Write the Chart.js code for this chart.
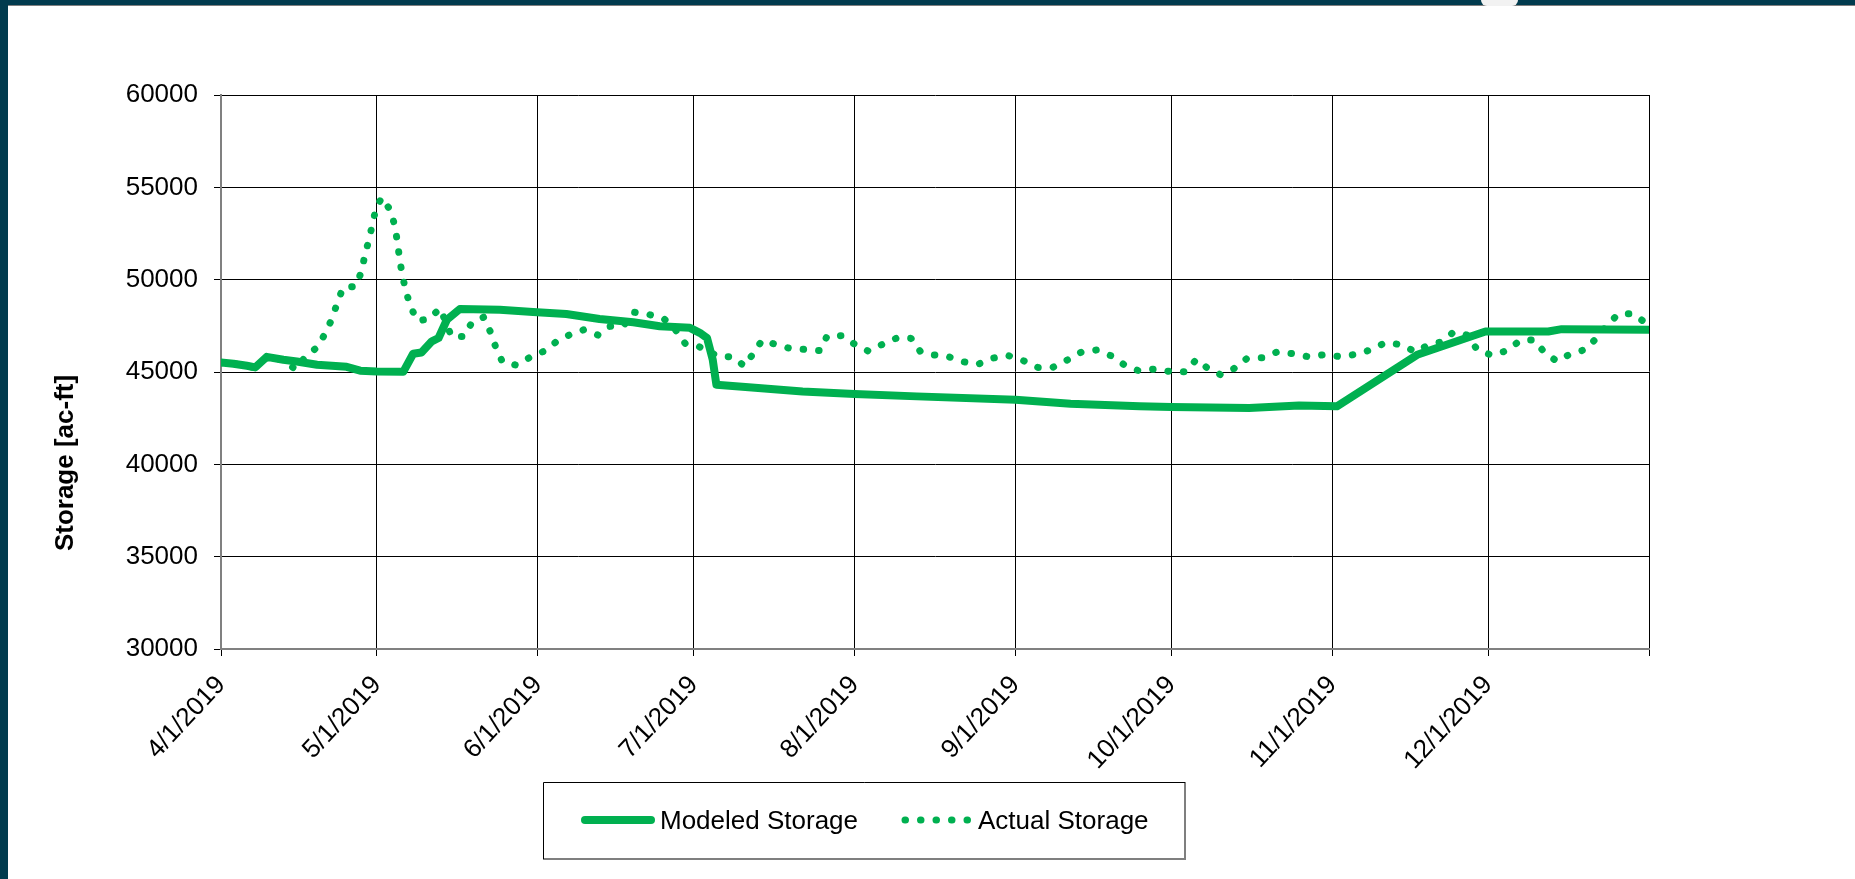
<!DOCTYPE html>
<html>
<head>
<meta charset="utf-8">
<script src="https://cdn.jsdelivr.net/npm/chart.js@4.4.1/dist/chart.umd.min.js"></script>
<style>
  html, body { margin: 0; padding: 0; background: #fff; overflow: hidden; }
  #wrap { position: absolute; left: 0; top: 0; width: 1855px; height: 879px; }
  .band-top { position: absolute; left: 0; top: 0; width: 1855px; height: 5px; background: #013b4e; border-bottom: 1px solid #7f7f7f; }
  .band-left { position: absolute; left: 0; top: 0; width: 8px; height: 879px; background: #013b4e; }
  .knob { position: absolute; left: 1481px; top: 0; width: 37px; height: 6px; background: #f2f2f2; border-radius: 0 0 18px 18px; }
</style>
</head>
<body>
<div id="wrap"><canvas id="storageChart"></canvas></div>
<div class="band-top"></div>
<div class="band-left"></div>
<div class="knob"></div>
<script>
// x values are days after 4/1/2019
const monthDays = [0, 30, 61, 91, 122, 153, 183, 214, 244, 275];
const monthLabels = ['4/1/2019', '5/1/2019', '6/1/2019', '7/1/2019', '8/1/2019',
  '9/1/2019', '10/1/2019', '11/1/2019', '12/1/2019', ''];
const yTicks = [30000, 35000, 40000, 45000, 50000, 55000, 60000];

// Modeled Storage
const modeledDays = [0, 2.4, 5, 6.6, 8.8, 12, 14.6, 18.5, 24.2, 26.8, 30, 35.1, 37, 38.6,
  40.6, 41.9, 43.5, 46, 53.7, 60.1, 66.5, 72.9, 79.4, 84.5, 90.3, 92.2, 93.6, 94.7, 95.4,
  101, 112, 122, 134, 153, 163.6, 176.9, 183, 198, 207.6, 214.9, 230.5, 243.5, 255.6,
  258.2, 275];
const modeledValues = [45520, 45450, 45340, 45250, 45820, 45660, 45570, 45390, 45280, 45070,
  45030, 45010, 45990, 46060, 46660, 46840, 47830, 48410, 48370, 48250, 48140, 47870, 47690,
  47480, 47390, 47120, 46840, 45660, 44310, 44190, 43950, 43810, 43680, 43500, 43280, 43140,
  43110, 43050, 43180, 43140, 45950, 47190, 47190, 47320, 47290];

// Actual Storage
const actualDays = [0, 3, 6, 9, 12, 14.3, 16.2, 18.6, 20.1, 21.4, 22.4, 23.5, 26, 27.1, 27.7,
  28.5, 29.2, 29.9, 31, 32.7, 33.5, 34, 34.4, 34.9, 35.6, 36.5, 37.8, 40, 42.2, 44.4, 46.8,
  48.3, 50.6, 51.9, 52.9, 54.2, 56.9, 59.6, 62.4, 64.8, 67.2, 69.9, 72.6, 74.9, 77.6, 79.5,
  82.6, 85.4, 87.6, 89.4, 91.9, 95.8, 98.5, 100.8, 102.5, 104.2, 107.1, 109.9, 112.8, 115.4,
  116.7, 119.5, 122.1, 124.7, 127.5, 130.4, 132.9, 134.7, 137, 139.8, 142.7, 145.7, 148.6,
  151.5, 154.4, 157.3, 160.2, 163, 165.7, 168.6, 171.4, 174, 176.7, 179.8, 182.9, 185.9,
  187.8, 189.8, 192.5, 195.1, 197.5, 200.5, 203.5, 206.4, 209.4, 212.5, 215.6, 218.6, 221.5,
  224.2, 227.3, 230, 232.4, 235, 237.4, 240.1, 241.9, 244.7, 247.6, 250.1, 252.8, 254.8,
  257.2, 260, 262.7, 264.8, 266.9, 269, 271.9, 275];
const actualValues = [45500, 45420, 45260, 45800, 45640, 45150, 45800, 46360, 47110, 47900,
  48750, 49570, 49640, 50490, 51320, 52170, 53050, 53920, 54450, 53720, 52870, 51990, 51120,
  50260, 49390, 48540, 47780, 47860, 48450, 46920, 46920, 47680, 47970, 47160, 46350, 45540,
  45370, 45810, 46150, 46690, 47020, 47290, 47000, 47470, 47540, 48240, 48100, 47860, 47250,
  46540, 46400, 45840, 45820, 45320, 46000, 46720, 46470, 46250, 46220, 46160, 46940, 46970,
  46490, 46130, 46510, 46870, 46820, 46100, 45930, 45860, 45570, 45410, 45750, 45900, 45630,
  45250, 45250, 45650, 46080, 46190, 45880, 45380, 45070, 45160, 45020, 45020, 45680, 45250,
  44850, 45190, 45720, 45770, 46100, 45990, 45830, 45940, 45830, 45960, 46210, 46590, 46480,
  46090, 46450, 46630, 47170, 46990, 46210, 45910, 46150, 46690, 46740, 46090, 45590, 46000,
  46210, 46810, 47510, 48120, 48160, 47530];

const green = '#00b050';
const toPoints = (xs, ys) => xs.map((x, i) => ({ x: x, y: ys[i] }));

Chart.defaults.font.family = "'Liberation Sans', Arial, sans-serif";
Chart.defaults.font.size = 26;
Chart.defaults.color = '#000';

// y axis title, placed like the original (lower than the plot centre)
const yTitlePlugin = {
  id: 'yTitle',
  afterDraw(chart) {
    const ctx = chart.ctx;
    ctx.save();
    ctx.translate(73, 463);
    ctx.rotate(-Math.PI / 2);
    ctx.font = "bold 26px 'Liberation Sans', Arial, sans-serif";
    ctx.fillStyle = '#000';
    ctx.textAlign = 'center';
    ctx.textBaseline = 'alphabetic';
    ctx.fillText('Storage [ac-ft]', 0, 0);
    ctx.restore();
  }
};

// boxed legend under the plot
const boxLegendPlugin = {
  id: 'boxLegend',
  afterDraw(chart) {
    const ctx = chart.ctx;
    const sets = chart.data.datasets;
    ctx.save();
    ctx.fillStyle = '#fff';
    ctx.fillRect(543, 782, 642, 77);
    ctx.strokeStyle = '#7f7f7f';
    ctx.lineWidth = 2;
    ctx.beginPath();
    ctx.moveTo(1185, 782); ctx.lineTo(1185, 859); ctx.lineTo(543, 859);
    ctx.stroke();
    ctx.strokeStyle = '#000';
    ctx.lineWidth = 1;
    ctx.beginPath();
    ctx.moveTo(543.5, 859); ctx.lineTo(543.5, 782.5); ctx.lineTo(1185, 782.5);
    ctx.stroke();

    const items = [
      { ds: sets[0], x1: 585, x2: 651, tx: 660 },
      { ds: sets[1], x1: 905, x2: 969, tx: 978 }
    ];
    items.forEach(it => {
      ctx.strokeStyle = it.ds.borderColor;
      ctx.lineWidth = it.ds.borderWidth;
      ctx.lineCap = 'round';
      ctx.setLineDash(it.ds.borderDash || []);
      ctx.beginPath();
      ctx.moveTo(it.x1, 820);
      ctx.lineTo(it.x2, 820);
      ctx.stroke();
      ctx.setLineDash([]);
      ctx.fillStyle = '#000';
      ctx.font = "26px 'Liberation Sans', Arial, sans-serif";
      ctx.textAlign = 'left';
      ctx.textBaseline = 'alphabetic';
      ctx.fillText(it.ds.label, it.tx, 829);
    });
    ctx.restore();
  }
};

const storageChart = new Chart(document.getElementById('storageChart'), {
  type: 'line',
  data: {
    datasets: [{
      label: 'Modeled Storage',
      data: toPoints(modeledDays, modeledValues),
      borderColor: green,
      borderWidth: 8,
      borderCapStyle: 'round',
      borderJoinStyle: 'round',
      pointRadius: 0,
      tension: 0
    }, {
      label: 'Actual Storage',
      data: toPoints(actualDays, actualValues),
      borderColor: green,
      borderWidth: 7,
      borderDash: [0.5, 15],
      borderCapStyle: 'round',
      borderJoinStyle: 'round',
      pointRadius: 0,
      tension: 0
    }]
  },
  options: {
    responsive: true,
    maintainAspectRatio: false,
    animation: false,
    layout: {
      padding: { top: 95, right: 206, left: 0, bottom: 0 }
    },
    plugins: {
      legend: { display: false },
      tooltip: { enabled: false }
    },
    scales: {
      x: {
        type: 'linear',
        min: 0,
        max: 275,
        afterBuildTicks: (scale) => {
          scale.ticks = monthDays.map(d => ({ value: d }));
        },
        afterFit: (scale) => { scale.height = 230; },
        ticks: {
          autoSkip: false,
          minRotation: 47,
          maxRotation: 47,
          padding: 14,
          callback: (value, index) => monthLabels[index]
        },
        grid: { color: '#000', lineWidth: 1, tickLength: 7 },
        border: { color: '#808080', width: 2 }
      },
      y: {
        min: 30000,
        max: 60000,
        afterBuildTicks: (scale) => {
          scale.ticks = yTicks.map(v => ({ value: v }));
        },
        afterFit: (scale) => { scale.width = 221; },
        ticks: {
          padding: 16,
          callback: (value) => String(value)
        },
        grid: { color: '#000', lineWidth: 1, tickLength: 7 },
        border: { color: '#808080', width: 2 }
      }
    }
  },
  plugins: [yTitlePlugin, boxLegendPlugin]
});
</script>
</body>
</html>
